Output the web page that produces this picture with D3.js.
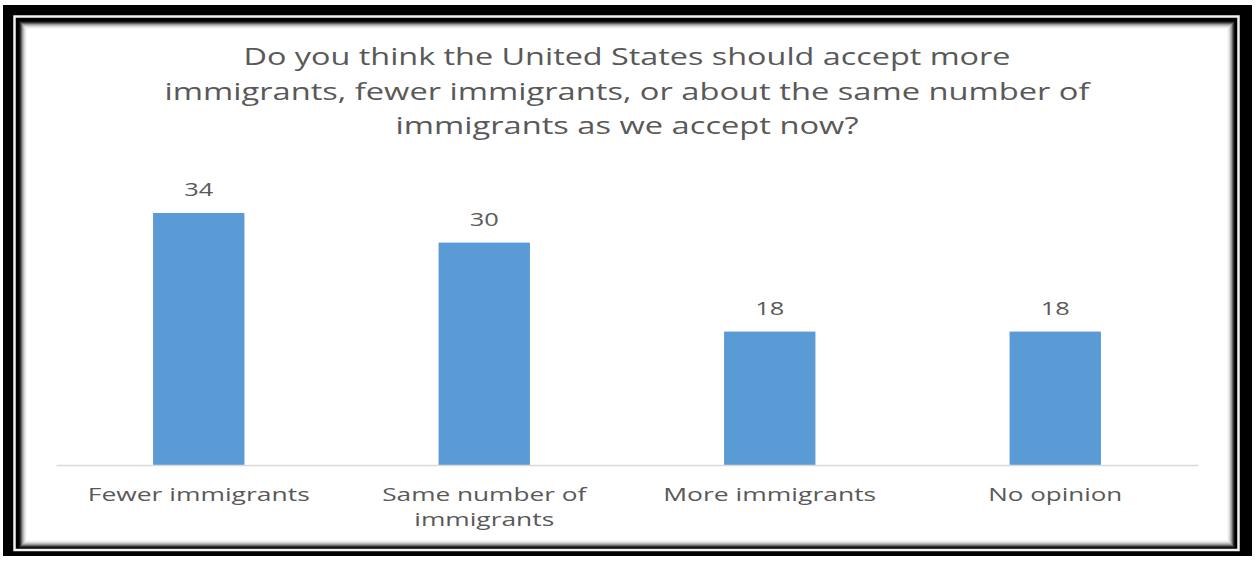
<!DOCTYPE html>
<html>
<head>
<meta charset="utf-8">
<script src="https://cdn.jsdelivr.net/npm/d3@7"></script>
<style>
  html, body { margin: 0; padding: 0; background: #ffffff; }
  svg { display: block; }
  text { font-family: "Open Sans", "DejaVu Sans", sans-serif; fill: #595959; }
</style>
</head>
<body>
<svg id="chart" width="1257" height="561"></svg>
<script>
// ---- data ----
const categories = ["Fewer immigrants", "Same number of immigrants", "More immigrants", "No opinion"];
const categoryLines = [["Fewer immigrants"], ["Same number of", "immigrants"], ["More immigrants"], ["No opinion"]];
const values = [34, 30, 18, 18];
const titleLines = [
  "Do you think the United States should accept more",
  "immigrants, fewer immigrants, or about the same number of",
  "immigrants as we accept now?"
];

// ---- layout ----
const W = 1257, H = 561;
const svg = d3.select("#chart");

// Frame: black outer, thin white line, inner shadow into white panel
svg.append("rect").attr("x", 3).attr("y", 5).attr("width", 1249).attr("height", 551).attr("fill", "#000");
svg.append("rect").attr("x", 14.5).attr("y", 16.5).attr("width", 1224).attr("height", 533.5)
  .attr("fill", "none").attr("stroke", "#f2f2f2").attr("stroke-width", 2.5);
const shades = ["#111", "#333", "#666", "#999", "#bbb", "#d8d8d8", "#ececec", "#f8f8f8", "#ffffff"];
shades.forEach((c, i) => {
  svg.append("rect")
    .attr("x", 19 + i).attr("y", 21 + i)
    .attr("width", 1216 - 2 * i).attr("height", 527 - 2 * i)
    .attr("fill", c);
});

const margin = { left: 56, right: 1198, top: 168.5, bottom: 465 };

const x = d3.scaleBand().domain(categories).range([margin.left, margin.right]).paddingInner(0.68).paddingOuter(0.34);
const y = d3.scaleLinear().domain([0, 40]).range([margin.bottom, margin.top]);

// Title
const title = svg.append("g");
const titleWidths = [767, 925, 463];
titleLines.forEach((t, i) => {
  title.append("text")
    .attr("x", 627).attr("y", 65 + i * 34.5)
    .attr("text-anchor", "middle")
    .attr("font-size", 23)
    .attr("textLength", titleWidths[i])
    .attr("lengthAdjust", "spacingAndGlyphs")
    .text(t);
});

// Bars
svg.append("g").selectAll("rect")
  .data(values)
  .join("rect")
  .attr("x", (d, i) => x(categories[i]))
  .attr("y", d => y(d))
  .attr("width", x.bandwidth())
  .attr("height", d => y(0) - y(d))
  .attr("fill", "#5b9bd5");

// Axis line
const axis = d3.axisBottom(x).tickSize(0).tickFormat("");
const axG = svg.append("g").attr("transform", `translate(0,${margin.bottom})`).call(axis);
axG.select(".domain").attr("stroke", "#d9d9d9").attr("stroke-width", 1.5);

// Data labels
svg.append("g").selectAll("text")
  .data(values)
  .join("text")
  .attr("x", (d, i) => x(categories[i]) + x.bandwidth() / 2)
  .attr("y", d => y(d) - 17)
  .attr("text-anchor", "middle")
  .attr("font-size", 19)
  .attr("textLength", 29)
  .attr("lengthAdjust", "spacingAndGlyphs")
  .text(d => d);

// Category labels
const catWidths = [[222], [204, 140], [213], [134]];
categoryLines.forEach((lines, i) => {
  lines.forEach((ln, j) => {
    svg.append("text")
      .attr("x", x(categories[i]) + x.bandwidth() / 2)
      .attr("y", 501 + j * 25)
      .attr("text-anchor", "middle")
      .attr("font-size", 19)
      .attr("textLength", catWidths[i][j])
      .attr("lengthAdjust", "spacingAndGlyphs")
      .text(ln);
  });
});
</script>
</body>
</html>
